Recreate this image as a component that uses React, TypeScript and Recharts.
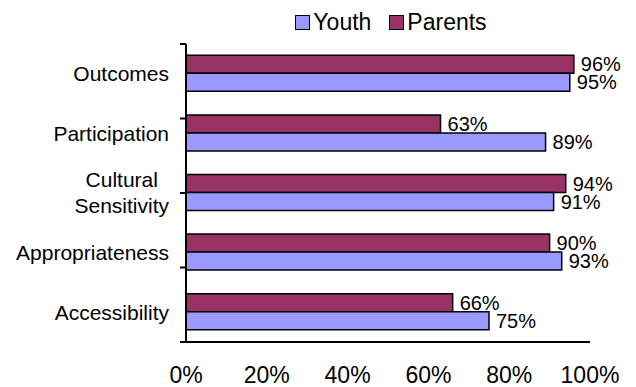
import { BarChart, Bar, XAxis, YAxis, Legend, LabelList } from 'recharts';

// categories top to bottom
const categories = ['Outcomes', 'Participation', 'Cultural\nSensitivity', 'Appropriateness', 'Accessibility'];
const youth = [95, 89, 91, 93, 75];
const parents = [96, 63, 94, 90, 66];
const percentTicks = [0, 20, 40, 60, 80, 100];
const boundaryTicks = [0, 1, 2, 3, 4, 5];

const YOUTH = '#9999FF';
const PARENTS = '#993366';
const FONT = '"Liberation Sans", Arial, sans-serif';

const data = categories.map((name, i) => ({ name, youth: youth[i], parents: parents[i] }));

let ctx: CanvasRenderingContext2D | null = null;
function textWidth(s: string, size: number) {
  if (!ctx) ctx = document.createElement('canvas').getContext('2d');
  if (!ctx) return s.length * size * 0.5;
  ctx.font = `${size}px ${FONT}`;
  return ctx.measureText(s).width;
}

function CategoryTick({ x, y, payload }: any) {
  const lines = String(payload.value).split('\n');
  const size = 21;
  const lh = 26;
  const single = lines.length === 1;
  const widest = Math.max(...lines.map((l) => textWidth(l, size)));
  const tx = single ? x : x - widest / 2;
  const y0 = y - ((lines.length - 1) * lh) / 2;
  return (
    <text x={tx} y={y0} textAnchor={single ? 'end' : 'middle'} fontSize={size} fill="#000">
      {lines.map((l, i) => (
        <tspan key={i} x={tx} y={y0 + i * lh} dy="0.355em">
          {l}
        </tspan>
      ))}
    </text>
  );
}

const NoTick = () => <g />;

function LegendBox({ payload }: any) {
  const items = [...(payload || [])].reverse();
  return (
    <div style={{ height: 36, display: 'flex', justifyContent: 'center', paddingLeft: 230, paddingRight: 46, boxSizing: 'border-box' }}>
      <div style={{ display: 'flex', alignItems: 'center', height: 22, marginTop: 3, fontSize: 23, color: '#000' }}>
        {items.map((it: any, i: number) => (
          <span key={i} style={{ display: 'flex', alignItems: 'center', marginLeft: i ? 18 : 0 }}>
            <span style={{ width: 13, height: 13, background: it.color, border: '1.5px solid #000', marginRight: 3 }} />
            {it.value}
          </span>
        ))}
      </div>
    </div>
  );
}

export default function App() {
  return (
    <div style={{ width: 628, height: 379, fontFamily: FONT }}>
      <BarChart
        width={628}
        height={379}
        data={data}
        layout="vertical"
        margin={{ top: 0, right: 46, bottom: 0, left: 0 }}
        barGap={0}
        barCategoryGap="19%"
      >
        <Legend verticalAlign="top" align="center" content={<LegendBox />} />
        <XAxis
          type="number"
          domain={[0, 100]}
          ticks={percentTicks}
          tickFormatter={(v) => `${v}%`}
          tickLine={false}
          tickSize={0}
          tickMargin={25}
          height={45}
          axisLine={{ stroke: '#000', strokeWidth: 2 }}
          tick={{ fill: '#000', fontSize: 23 }}
        />
        <YAxis
          yAxisId="a"
          type="number"
          domain={[0, 5]}
          ticks={boundaryTicks}
          allowDataOverflow
          width={1}
          tick={NoTick}
          tickSize={6}
          axisLine={{ stroke: '#000', strokeWidth: 2 }}
          tickLine={{ stroke: '#000', strokeWidth: 2 }}
        />
        <YAxis
          yAxisId="b"
          type="category"
          dataKey="name"
          width={177}
          axisLine={false}
          tickLine={false}
          tickSize={0}
          tickMargin={16}
          tick={<CategoryTick />}
          interval={0}
        />
        <Bar yAxisId="b" dataKey="parents" name="Parents" fill={PARENTS} stroke="#000" strokeWidth={1.5} isAnimationActive={false}>
          <LabelList dataKey="parents" position="right" offset={7} formatter={(v: any) => `${v}%`} fill="#000" fontSize={20} />
        </Bar>
        <Bar yAxisId="b" dataKey="youth" name="Youth" fill={YOUTH} stroke="#000" strokeWidth={1.5} isAnimationActive={false}>
          <LabelList dataKey="youth" position="right" offset={7} formatter={(v: any) => `${v}%`} fill="#000" fontSize={20} />
        </Bar>
      </BarChart>
    </div>
  );
}
